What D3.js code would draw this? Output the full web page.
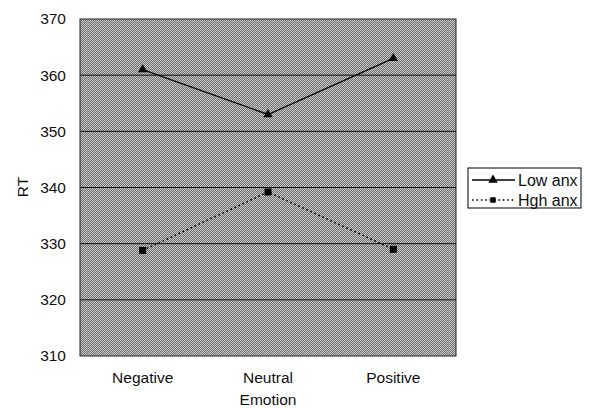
<!DOCTYPE html>
<html>
<head>
<meta charset="utf-8">
<script src="https://cdn.jsdelivr.net/npm/d3@7"></script>
<style>
	body { margin: 0; background: #fff; }
	svg { display: block; font-family: "Liberation Sans", Arial, sans-serif; }
</style>
</head>
<body>
<script>
	// data
	var categories = ['Negative', 'Neutral', 'Positive'];
	var lowAnx = [361, 353, 363];
	var highAnx = [328.8, 339.2, 329];
	var yTicks = [310, 320, 330, 340, 350, 360, 370];
	var seriesNames = ['Low anx', 'Hgh anx'];

	var width = 589, height = 408;
	var margin = { top: 19, left: 80, right: 133, bottom: 52 };
	var plotW = width - margin.left - margin.right,
		plotH = height - margin.top - margin.bottom;
	var fs = 15.5;

	var svg = d3.select('body').append('svg')
		.attr('width', width)
		.attr('height', height);

	// dithered gray fill
	var pat = svg.append('defs').append('pattern')
		.attr('id', 'dither')
		.attr('width', 2).attr('height', 2)
		.attr('patternUnits', 'userSpaceOnUse');
	pat.append('rect').attr('width', 2).attr('height', 2).attr('fill', '#c8c8c8');
	pat.append('rect').attr('width', 1).attr('height', 1).attr('fill', '#707070');
	pat.append('rect').attr('x', 1).attr('y', 1).attr('width', 1).attr('height', 1).attr('fill', '#707070');

	var chart = svg.append('g')
		.attr('transform', 'translate(' + margin.left + ',' + margin.top + ')');

	var x = d3.scaleBand().domain(categories).range([0, plotW]);
	var y = d3.scaleLinear().domain([310, 370]).range([plotH, 0]);

	chart.append('rect')
		.attr('width', plotW)
		.attr('height', plotH)
		.attr('fill', 'url(#dither)');

	// gridlines
	chart.selectAll('.grid')
		.data(yTicks.slice(1, -1))
		.enter().append('line')
		.attr('x1', 0).attr('x2', plotW)
		.attr('y1', function(d) { return y(d); })
		.attr('y2', function(d) { return y(d); })
		.attr('stroke', '#111')
		.attr('stroke-width', 1);

	chart.append('rect')
		.attr('width', plotW)
		.attr('height', plotH)
		.attr('fill', 'none')
		.attr('stroke', '#222')
		.attr('stroke-width', 1);

	// axes
	var yAxis = d3.axisLeft(y).tickValues(yTicks).tickSize(0).tickPadding(14);
	var gy = chart.append('g').call(yAxis);
	gy.select('.domain').remove();
	gy.selectAll('text').attr('font-size', fs).attr('fill', '#111').attr('font-family', 'Liberation Sans, Arial, sans-serif');

	var xAxis = d3.axisBottom(x).tickSize(0).tickPadding(16);
	var gx = chart.append('g').attr('transform', 'translate(0,' + plotH + ')').call(xAxis);
	gx.select('.domain').remove();
	gx.selectAll('text').attr('font-size', fs).attr('fill', '#111').attr('font-family', 'Liberation Sans, Arial, sans-serif');

	svg.append('text')
		.attr('x', margin.left + plotW / 2)
		.attr('y', 405)
		.attr('text-anchor', 'middle')
		.attr('font-size', fs)
		.attr('fill', '#111')
		.text('Emotion');

	svg.append('text')
		.attr('transform', 'translate(28,' + 187 + ') rotate(-90)')
		.attr('text-anchor', 'middle')
		.attr('font-size', fs)
		.attr('fill', '#111')
		.text('RT');

	// series
	var line = d3.line()
		.x(function(d, i) { return x(categories[i]) + x.bandwidth() / 2; })
		.y(function(d) { return y(d); });

	chart.append('path')
		.datum(lowAnx)
		.attr('d', line)
		.attr('fill', 'none')
		.attr('stroke', '#000')
		.attr('stroke-width', 1.3);

	chart.append('path')
		.datum(highAnx)
		.attr('d', line)
		.attr('fill', 'none')
		.attr('stroke', '#000')
		.attr('stroke-width', 1.6)
		.attr('stroke-dasharray', '1.6,2.8');

	var tri = d3.symbol().type(d3.symbolTriangle).size(38);
	chart.selectAll('.tri')
		.data(lowAnx)
		.enter().append('path')
		.attr('d', tri)
		.attr('transform', function(d, i) {
			return 'translate(' + (x(categories[i]) + x.bandwidth() / 2) + ',' + y(d) + ')';
		})
		.attr('fill', '#000');

	chart.selectAll('.sq')
		.data(highAnx)
		.enter().append('rect')
		.attr('x', function(d, i) { return x(categories[i]) + x.bandwidth() / 2 - 3.5; })
		.attr('y', function(d) { return y(d) - 3.5; })
		.attr('width', 7).attr('height', 7)
		.attr('fill', '#000');

	// legend
	var lg = svg.append('g').attr('transform', 'translate(468,168)');
	lg.append('rect')
		.attr('width', 113).attr('height', 40)
		.attr('fill', '#fff')
		.attr('stroke', '#000')
		.attr('stroke-width', 1);

	var rows = lg.selectAll('.row')
		.data(seriesNames)
		.enter().append('g')
		.attr('transform', function(d, i) { return 'translate(0,' + (12 + i * 20) + ')'; });

	rows.append('line')
		.attr('x1', 4).attr('x2', 47)
		.attr('stroke', '#000')
		.attr('stroke-width', function(d, i) { return i ? 1.6 : 1.3; })
		.attr('stroke-dasharray', function(d, i) { return i ? '1.6,2.8' : null; });

	rows.append('path')
		.attr('d', function(d, i) {
			return i ? d3.symbol().type(d3.symbolSquare).size(30)() : tri();
		})
		.attr('transform', 'translate(25,0)')
		.attr('fill', '#000');

	rows.append('text')
		.attr('x', 50)
		.attr('dy', '0.35em')
		.attr('font-size', 16)
		.attr('fill', '#111')
		.text(function(d) { return d; });
</script>
</body>
</html>
